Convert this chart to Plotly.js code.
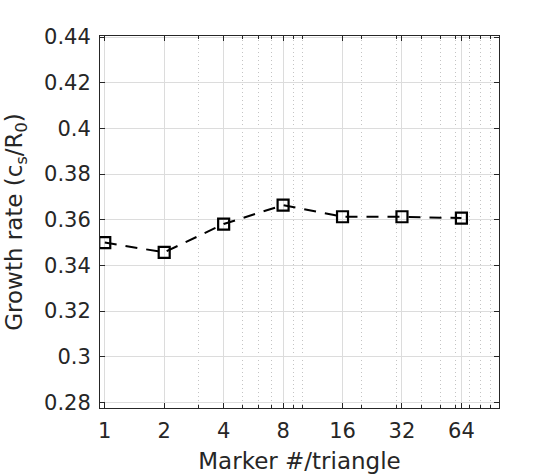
<!DOCTYPE html>
<html>
<head>
<meta charset="utf-8">
<script src="https://cdn.plot.ly/plotly-3.0.1.min.js"></script>
<style>
  body { margin: 0; background: #fff; }
  #plot { width: 553px; height: 474px; }
</style>
</head>
<body>
<div id="plot"></div>
<script>
const markers = [1, 2, 4, 8, 16, 32, 64];
const growth = [0.3500, 0.3457, 0.3581, 0.3664, 0.3613, 0.3613, 0.3607];
const xTicks = [1, 2, 4, 8, 16, 32, 64];
const xMinor = [3, 5, 6, 7, 9, 10, 20, 30, 40, 50, 60, 70, 80, 90];
const yTicks = [0.28, 0.3, 0.32, 0.34, 0.36, 0.38, 0.4, 0.42, 0.44];

(() => {
  const ink = "#262626";
  const font = { family: "DejaVu Sans", size: 21, color: ink };
  const labelFont = { family: "DejaVu Sans", size: 23, color: ink };

  const trace = {
    x: markers,
    y: growth,
    type: "scatter",
    mode: "lines+markers",
    line: { color: "#000", width: 2, dash: "12px,9px" },
    marker: {
      symbol: "square-open",
      size: 11,
      color: "#000",
      line: { color: "#000", width: 2.2 },
    },
    showlegend: false,
  };

  Plotly.newPlot("plot", [trace], {
    width: 553,
    height: 474,
    margin: { l: 99.5, r: 54, t: 36, b: 66 },
    paper_bgcolor: "#fff",
    plot_bgcolor: "#fff",
    font: font,
    xaxis: {
      type: "log",
      range: [Math.log10(0.946), Math.log10(99.2)],
      tickmode: "array",
      tickvals: xTicks,
      ticktext: xTicks.map(String),
      ticks: "inside",
      ticklen: 5,
      tickcolor: ink,
      ticklabelstandoff: 4,
      showline: true,
      linecolor: ink,
      linewidth: 1,
      mirror: "ticks",
      showgrid: true,
      gridcolor: "#dcdcdc",
      gridwidth: 1,
      zeroline: false,
      tickfont: font,
      minor: {
        tickmode: "array",
        tickvals: xMinor,
        ticks: "inside",
        ticklen: 3,
        tickcolor: ink,
        showgrid: true,
        gridcolor: "#c4c4c4",
        griddash: "1px,3px",
        gridwidth: 1,
      },
      title: { text: "Marker #/triangle", font: labelFont, standoff: 10 },
    },
    yaxis: {
      range: [0.2775, 0.4405],
      tickmode: "array",
      tickvals: yTicks,
      ticktext: yTicks.map(String),
      ticks: "inside",
      ticklen: 5,
      tickcolor: ink,
      ticklabelstandoff: 4,
      showline: true,
      linecolor: ink,
      linewidth: 1,
      mirror: "ticks",
      showgrid: true,
      gridcolor: "#dcdcdc",
      gridwidth: 1,
      zeroline: false,
      tickfont: font,
      title: {
        text: "Growth rate (c<sub>s</sub>/R<sub>0</sub>)",
        font: labelFont,
        standoff: 14,
      },
    },
  }, { staticPlot: true });
})();
</script>
</body>
</html>
